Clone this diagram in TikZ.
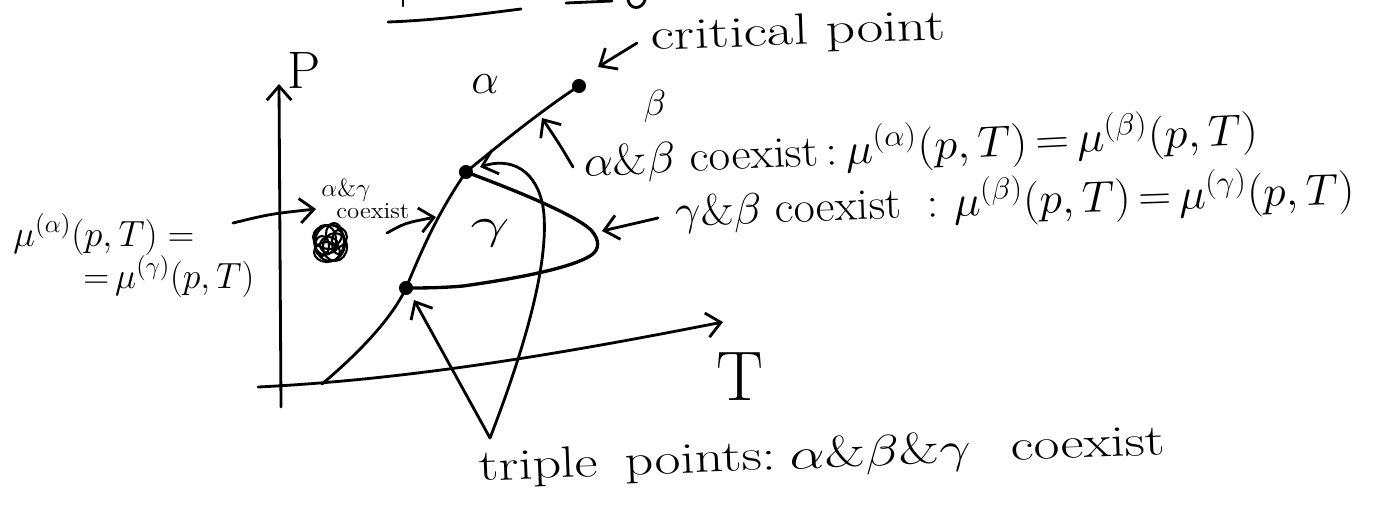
\documentclass[tikz,border=0pt]{standalone}
\usepackage{graphicx}
\usetikzlibrary{arrows.meta}
\newcommand{\hwtext}[2]{\resizebox{#1}{\height}{#2}}
\begin{document}
\begin{tikzpicture}[x=0.02cm,y=-0.02cm, line width=1.6pt, line cap=round, line join=round,
  arr/.style={-{Straight Barb[length=8pt,width=14pt,line width=1.6pt]}},
  lbl/.style={font=\fontsize{25}{29}\selectfont, inner sep=0pt},
  lefttxt/.style={font=\fontsize{22}{26}\selectfont, inner sep=0pt},
  small/.style={font=\fontsize{14}{17}\selectfont, inner sep=0pt},
  tiny/.style={font=\fontsize{13}{15}\selectfont, inner sep=0pt},
  dotmark/.style={circle, fill=black, inner sep=0pt, minimum size=8pt}]
\useasboundingbox (0,0) rectangle (1378,505);

% cut-off heading fragments at the top
\draw (388,22) .. controls (440,20) and (480,14) .. (521,9);
\draw (403,0) -- (403,6);
\draw (566,3) -- (612,1);
\draw (628,0) .. controls (630,10) and (642,10) .. (645,0);

% axes
\coordinate (ybot) at (281,407);
\coordinate (ytop) at (279,84);
\draw[arr] (ybot) -- (ytop);
\coordinate (xl) at (258,387);
\coordinate (xr) at (723,322);
\draw[arr] (xl) .. controls (420,379) and (580,350) .. (xr);
\node[font=\fontsize{30}{34}\selectfont, inner sep=0pt] (P) at (304,70) {P};
\node[font=\fontsize{40}{44}\selectfont, inner sep=0pt] (T) at (740,377) {T};

% special points
\node[dotmark] (tpL) at (406,288) {};
\node[dotmark] (tpH) at (466,172) {};
\node[dotmark] (crit) at (579,86) {};

% phase boundaries
\draw (322,384) .. controls (360,352) and (392,318) .. (tpL.center)
      .. controls (425,242) and (440,210) .. (tpH.center);
\draw (tpH.center) .. controls (505,140) and (545,108) .. (crit.center);
\draw[line width=1.9pt] (tpH.center) .. controls (520,192) and (575,215) .. (591,230)
      .. controls (600,240) and (600,250) .. (590,256)
      .. controls (570,268) and (520,278) .. (463,286)
      .. controls (440,288) and (420,288) .. (tpL.center);

% region labels
\node[font=\fontsize{34}{38}\selectfont, inner sep=0pt] (alpha) at (485,84) {$\alpha$};
\node[font=\fontsize{22}{26}\selectfont, inner sep=0pt] (beta) at (655,106) {$\beta$};
\node[font=\fontsize{28}{32}\selectfont, inner sep=0pt] (gamma) at (490,233) {\scalebox{1.6}[1]{$\gamma$}};

% critical point
\node[lbl, anchor=base west, rotate=2] (critlbl) at (650,50) {\hwtext{5.9cm}{critical point}};
\coordinate (ca) at (637,43);
\draw[arr] (ca) -- (598,67);

% alpha & beta coexist
\node[lbl, anchor=base west, rotate=2.8] (ab) at (583,177)
  {\hwtext{13.5cm}{$\alpha$\&$\beta$ coexist\hspace{4pt}:\hspace{4pt}$\mu^{(\alpha)}(p,T)\mkern-2mu=\mkern-2mu\mu^{(\beta)}(p,T)$}};
\coordinate (abs) at (573,167);
\draw[arr] (abs) .. controls (560,145) .. (542,118);

% gamma & beta coexist
\node[lbl, anchor=base west, rotate=1.9] (gb) at (674,226)
  {\hwtext{13.6cm}{$\gamma$\&$\beta$ coexist\hspace{14pt}:\hspace{8pt}$\mu^{(\beta)}(p,T)\mkern-2mu=\mkern-2mu\mu^{(\gamma)}(p,T)$}};
\coordinate (gbs) at (658,218);
\draw[arr] (gbs) -- (602,231);

% alpha & gamma coexist (left)
\node[lefttxt, anchor=base west] (ag1) at (12,246) {\hwtext{3.62cm}{$\mu^{(\alpha)}(p,T)=$}};
\node[lefttxt, anchor=base west] (ag2) at (82,288) {\hwtext{3.42cm}{${=}\,\mu^{(\gamma)}(p,T)$}};
\node[small, anchor=base west] (agsm) at (320,196) {$\alpha$\&$\gamma$};
\node[tiny, anchor=base west] (agco) at (335,218) {\hwtext{1.46cm}{coexist}};
\coordinate (ags) at (233,223);
\draw[arr] (ags) .. controls (270,214) .. (316,209);
\coordinate (cos) at (387,233);
\draw[arr] (cos) .. controls (405,223) .. (436,217);

% scribble
\begin{scope}[line width=1.2pt]
\draw (330,243) ellipse (15 and 18);
\draw (325,240) ellipse (11 and 15);
\draw (335,247) ellipse (12 and 14);
\draw (330,237) ellipse (17 and 12);
\draw (327,252) ellipse (13 and 10);
\draw (334,234) ellipse (8 and 11);
\draw (322,246) ellipse (7 and 10);
\draw (338,242) ellipse (6 and 12);
\draw (329,245) ellipse (9 and 8);
\end{scope}

% triple points
\coordinate (tv) at (490,438);
\draw[arr] (tv) -- (414,300);
\draw[arr] (tv) .. controls (522,355) and (548,270) .. (544,215)
      .. controls (541,178) and (518,155) .. (480,167);
\node[lbl, anchor=base west, rotate=2.2] (tp) at (478,481)
  {\hwtext{13.74cm}{triple\hspace{12pt}points:\hspace{6pt}$\alpha$\&$\beta$\&$\gamma$\hspace{18pt}coexist}};
\end{tikzpicture}
\end{document}
